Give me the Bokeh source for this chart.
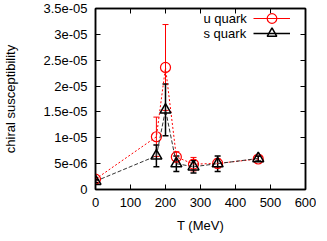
from bokeh.plotting import figure
from bokeh.models import (ColumnDataSource, Whisker, TeeHead, Range1d, FixedTicker,
                          LinearAxis, CustomJSTickFormatter, Legend, LegendItem, Label)
from bokeh.core.properties import value
from bokeh.embed import file_html
from bokeh.resources import INLINE

# ---- data ----
T_u = [0, 174, 200, 231, 280, 349, 465]
u_val = [2.0e-6, 1.02e-5, 2.36e-5, 6.3e-6, 4.9e-6, 5.05e-6, 5.9e-6]
u_err = [0.3e-6, 3.8e-6, 8.3e-6, 1.0e-6, 1.3e-6, 0.9e-6, 0.5e-6]

T_s = [0, 174, 200, 231, 280, 349, 465]
s_val = [1.6e-6, 6.5e-6, 1.54e-5, 5.0e-6, 4.4e-6, 5.0e-6, 6.0e-6]
s_err = [0.3e-6, 2.1e-6, 5.0e-6, 1.5e-6, 1.2e-6, 1.5e-6, 0.5e-6]

x_ticks = [0, 100, 200, 300, 400, 500, 600]
y_ticks = [0, 5e-06, 1e-05, 1.5e-05, 2e-05, 2.5e-05, 3e-05, 3.5e-05]
y_tick_labels = ["0", "5e-06", "1e-05", "1.5e-05", "2e-05", "2.5e-05", "3e-05", "3.5e-05"]
series_names = ["u quark", "s quark"]

FONT = "Liberation Sans"
FS = "13px"
FW, FH = 210, 181

src_u = ColumnDataSource(dict(x=T_u, y=u_val,
                              lo=[v - e for v, e in zip(u_val, u_err)],
                              hi=[v + e for v, e in zip(u_val, u_err)]))
src_s = ColumnDataSource(dict(x=T_s, y=s_val,
                              lo=[v - e for v, e in zip(s_val, s_err)],
                              hi=[v + e for v, e in zip(s_val, s_err)]))

p = figure(frame_width=FW, frame_height=FH, output_backend="svg", toolbar_location=None,
           x_range=Range1d(0, 600), y_range=Range1d(0, 3.5e-05),
           min_border_left=90, min_border_right=11, min_border_top=8, min_border_bottom=36)
p.grid.visible = False
p.outline_line_color = "black"
p.outline_line_width = 1.5
p.background_fill_color = "white"
p.border_fill_color = "white"

# red (u quark)
p.line("x", "y", source=src_u, line_color="red", line_width=1, line_dash="2 2")
p.add_layout(Whisker(base="x", lower="lo", upper="hi", source=src_u, dimension="height",
                     line_color="red", line_width=1,
                     lower_head=TeeHead(size=6, line_color="red", line_width=1),
                     upper_head=TeeHead(size=6, line_color="red", line_width=1)))
u_marks = p.scatter("x", "y", source=src_u, marker="circle", size=10, fill_color=None,
                    line_color="red", line_width=1.2)

# black (s quark)
p.line("x", "y", source=src_s, line_color="#333333", line_width=1, line_dash="4 2")
p.add_layout(Whisker(base="x", lower="lo", upper="hi", source=src_s, dimension="height",
                     line_color="black", line_width=1.5,
                     lower_head=TeeHead(size=6, line_color="black", line_width=1.5),
                     upper_head=TeeHead(size=6, line_color="black", line_width=1.5)))
s_marks = p.scatter("x", "y", source=src_s, marker="triangle", size=11, fill_color=None,
                    line_color="black", line_width=1.5)

# axes
def style_axis(ax):
    ax.major_tick_in = 5
    ax.major_tick_out = 0
    ax.minor_tick_line_color = None
    ax.axis_line_color = "black"
    ax.axis_line_width = 1.5
    ax.major_tick_line_color = "black"
    ax.major_tick_line_width = 1
    ax.major_label_text_font = FONT
    ax.major_label_text_font_size = FS
    ax.major_label_text_color = "black"
    ax.axis_label_text_font = FONT
    ax.axis_label_text_font_size = FS
    ax.axis_label_text_font_style = "normal"
    ax.axis_label_text_color = "black"

xa = p.xaxis[0]
style_axis(xa)
xa.ticker = FixedTicker(ticks=x_ticks)
xa.axis_label = "T (MeV)"
xa.major_label_standoff = 8
xa.axis_label_standoff = 8

ya = p.yaxis[0]
style_axis(ya)
ya.ticker = FixedTicker(ticks=y_ticks)
ya.major_label_overrides = {t: l for t, l in zip(y_ticks, y_tick_labels)}
ya.axis_label = "chiral susceptibility"
ya.major_label_standoff = 8
ya.axis_label_standoff = 22

blank = CustomJSTickFormatter(code="return ''")
top = LinearAxis(ticker=FixedTicker(ticks=x_ticks), formatter=blank)
style_axis(top)
top.major_label_standoff = 0
top.major_label_text_font_size = "0px"
p.add_layout(top, "above")
right = LinearAxis(ticker=FixedTicker(ticks=y_ticks), formatter=blank)
style_axis(right)
right.major_label_standoff = 0
right.major_label_text_font_size = "0px"
p.add_layout(right, "right")

# legend samples: solid line renderers that are hidden in the plot, plus the markers
leg_u_line = p.line("x", "y", source=src_u, line_color="red", line_width=1, visible=False)
leg_s_line = p.line("x", "y", source=src_s, line_color="black", line_width=1.5, visible=False)

GH = 24
def make_legend(renderers, center_y):
    lg = Legend(items=[LegendItem(label=value(" "), renderers=renderers, index=0)],
                location=(FW - 52, center_y - GH // 2), glyph_width=37, glyph_height=GH,
                label_width=0, label_standoff=0, label_height=GH, padding=0, margin=0,
                spacing=0, border_line_color=None, background_fill_alpha=0,
                label_text_font_size="1px")
    p.add_layout(lg)

centers = [FH - 10, FH - 25]
make_legend([leg_u_line, u_marks], centers[0])
make_legend([leg_s_line, s_marks], centers[1])

for name, yy in zip(series_names, centers):
    p.add_layout(Label(x=FW - 102, y=yy, x_units="screen", y_units="screen", text=name,
                       text_align="left", text_baseline="middle",
                       text_font=FONT, text_font_size=FS, text_color="black"))

open("out.html", "w").write(file_html(p, INLINE))
